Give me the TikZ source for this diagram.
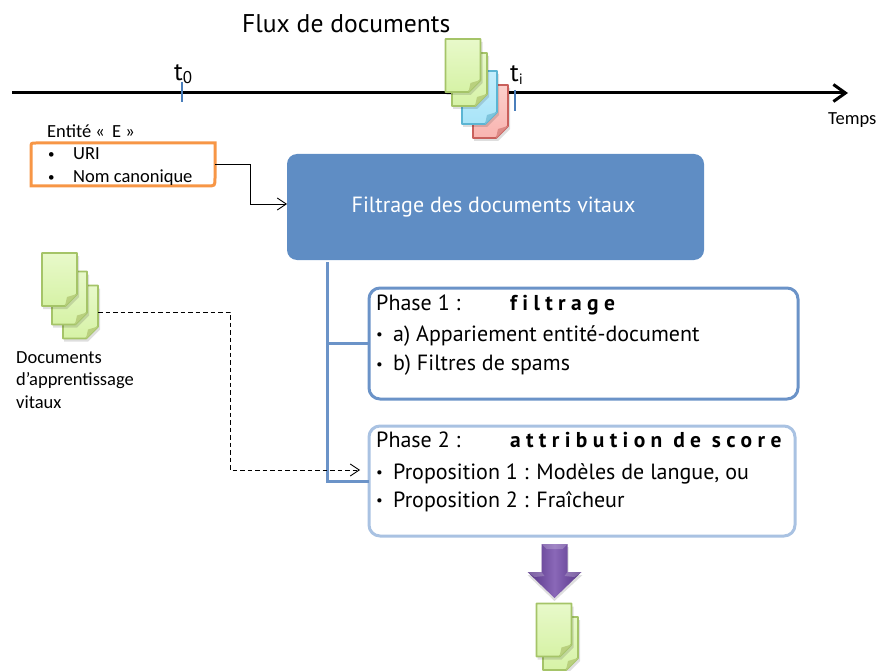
\documentclass[tikz,border=0pt]{standalone}
\usepackage{fontspec}
\setmainfont{Carlito}
\newfontfamily\myr[Ligatures=NoCommon]{PT Sans}
\newfontfamily\spacedbold[LetterSpace=25,Ligatures=NoCommon,BoldFont={PT Sans Bold}]{PT Sans}
\usetikzlibrary{arrows.meta,calc}
\definecolor{gEdge}{HTML}{A5C468}\definecolor{gTop}{HTML}{E8F9CA}\definecolor{gBot}{HTML}{D6F2A6}\definecolor{gFold}{HTML}{B9D07E}
\definecolor{bEdge}{HTML}{5BB5D3}\definecolor{bTop}{HTML}{C4EEFC}\definecolor{bBot}{HTML}{A8E4F8}\definecolor{bFold}{HTML}{7EC4DC}
\definecolor{rEdge}{HTML}{C9605C}\definecolor{rTop}{HTML}{FCD0CC}\definecolor{rBot}{HTML}{F9B4B0}\definecolor{rFold}{HTML}{DC8A86}
\definecolor{filterBlue}{HTML}{5F8DC4}\definecolor{phaseA}{HTML}{6B93C8}\definecolor{phaseB}{HTML}{A9C2E2}
\definecolor{orangeEdge}{HTML}{F79646}\definecolor{tickBlue}{HTML}{4A7EBB}
\definecolor{purpleTop}{HTML}{8A68B8}\definecolor{purpleBot}{HTML}{553385}
\tikzset{
  lbl/.style={anchor=base west,inner sep=0pt,font=\fontsize{#1}{#1}\selectfont},
  lbl/.default=18.5,
  plbl/.style={anchor=base west,inner sep=0pt,font=\myr\fontsize{#1}{#1}\selectfont},
  plbl/.default=22,
  tickmark/.style={draw=tickBlue,line width=1.4pt},
  trunkline/.style={draw=phaseA,line width=3pt},
  thinarrow/.style={draw=black,line width=0.9pt,-{Straight Barb[length=9pt,width=12pt]}},
  phasebox/.style={draw=#1,line width=3pt,rounded corners=11pt,fill=white,inner sep=0pt,outer sep=0pt},
  pagebox/.style={inner sep=0pt,outer sep=0pt,minimum width=35pt,minimum height=53pt}
}
% \docpage{name}{center x}{center y}{colour prefix}
\newcommand{\docpage}[4]{%
  \node[pagebox] (#1) at (#2,#3) {};
  \fill[black,opacity=.13] ($(#1.north west)+(1,3)$) -- ($(#1.north east)+(2,3)$) -- ($(#1.south east)+(2,-9)$) -- ($(#1.south east)+(-10,3)$) -- ($(#1.south west)+(1,3)$) -- cycle;
  \draw[draw=#4Edge,line width=1.8pt,top color=#4Top,bottom color=#4Bot,line join=round]
    (#1.north west) -- (#1.north east) -- ($(#1.south east)+(0,-12)$) -- ($(#1.south east)+(-12,0)$) -- (#1.south west) -- cycle;
  \fill[#4Fold] ($(#1.south east)+(0,-12)$) -- ($(#1.south east)+(-10,-9)$) -- ($(#1.south east)+(-12,0)$) -- cycle;
}
\begin{document}
\begin{tikzpicture}[x=1pt,y=-1pt]
\useasboundingbox (0,0) rectangle (878,671);
% title and timeline
\node[plbl=25.6] (title) at (242,33) {Flux de documents};
\coordinate (lineStart) at (12,93);
\coordinate (lineEnd) at (848,93);
\draw[line width=3pt,-{Straight Barb[length=12pt,width=17pt,line width=3pt]}] (lineStart) -- (lineEnd);
\coordinate (tickA) at (182,82);
\coordinate (tickB) at (515,90);
\draw[tickmark] (tickA) -- ++(0,20);
\draw[tickmark] (tickB) -- ++(0,21);
\node[plbl=25.6] (tzero) at (174,81) {t\raisebox{-3pt}{\fontsize{17}{17}\selectfont 0}};
\node[plbl=25.6] (ti) at (510,82) {t\raisebox{-3pt}{\fontsize{15}{15}\selectfont i}};
\node[lbl] (temps) at (828,125) {Temps};
% flux pages
\docpage{rouge}{490.5}{111.5}{r}
\docpage{bleu}{479.5}{97.5}{b}
\docpage{vertB}{469.5}{79.5}{g}
\docpage{vertA}{463}{65.5}{g}
% entity
\node[lbl] (entitelbl) at (47,138) {Entité «\, E »};
\node[inner sep=0pt,outer sep=0pt,minimum width=184pt,minimum height=43pt] (entite) at (123,164.5) {};
\draw[orangeEdge,line width=3pt] ($(entite.north west)+(5,0)$) -- (entite.north east) -- ($(entite.south east)+(0,-8)$) .. controls (entite.south east) .. ($(entite.south east)+(-8,0)$) -- (entite.south west) -- ($(entite.north west)+(0,5)$) .. controls (entite.north west) .. cycle;
\node[lbl=13] (bulA) at (48,159) {•};
\node[lbl] (uri) at (73,160) {URI};
\node[lbl=13] (bulB) at (48,182) {•};
\node[lbl] (nom) at (73,183) {Nom canonique};
% filter
\node[fill=filterBlue,rounded corners=10pt,inner sep=0pt,outer sep=0pt,minimum width=417pt,minimum height=106pt,text=white,font=\myr\fontsize{22}{22}\selectfont] (filtre) at (495.5,207) {\hspace{-4pt}\raisebox{-1pt}{Filtrage des documents vitaux}};
\coordinate (coude) at (250,204);
\draw[thinarrow] (entite.east) -- (entite.east -| coude) -- (coude) -- (coude -| filtre.west);
% phases
\coordinate (trunkTop) at (327,262);
\node[phasebox=phaseA,minimum width=429pt,minimum height=111pt] (phaseUn) at (583.5,343.5) {};
\node[phasebox=phaseB,minimum width=426pt,minimum height=110pt] (phaseDeux) at (582,481) {};
\draw[trunkline] (trunkTop) |- (phaseDeux.west);
\draw[trunkline] (trunkTop |- phaseUn.west) -- (phaseUn.west);
\node[plbl] (pA) at (376,310) {Phase 1 :};
\node[plbl=21.5] (pAt) at (510,310) {\spacedbold\bfseries filtrage};
\node[plbl=15] (pAa0) at (376,339) {•};
\node[plbl] (pAa) at (393,341) {a) Appariement entité-document};
\node[plbl=15] (pAb0) at (376,369) {•};
\node[plbl] (pAb) at (393,370) {b) Filtres de spams};
\node[plbl] (pB) at (376,447) {Phase 2 :};
\node[plbl=21.5] (pBt) at (510,447) {\spacedbold\bfseries attribution de score};
\node[plbl=15] (pBa0) at (376,477) {•};
\node[plbl] (pBa) at (393,479) {Proposition 1 : Modèles de langue,  ou};
\node[plbl=15] (pBb0) at (376,505) {•};
\node[plbl] (pBb) at (393,507) {Proposition 2 : Fraîcheur};
% training docs
\docpage{appC}{80.5}{312}{g}
\docpage{appB}{69.5}{298}{g}
\docpage{appA}{59.5}{279.5}{g}
\node[lbl] (docA) at (16,363) {Documents};
\node[lbl] (docB) at (16,385) {d’apprentissage};
\node[lbl] (docC) at (16,408) {vitaux};
\coordinate (coudeB) at (230,470);
\coordinate (finDash) at (360,470);
\draw[thinarrow,dashed,dash pattern=on 4.5pt off 3pt] (appC.east) -- (appC.east -| coudeB) -- (coudeB) -- (finDash);
% purple arrow
\coordinate (fleche) at (554.5,544);
\fill[black,opacity=.13] ($(fleche)+(-13,3)$) -- ++(27,0) -- ++(0,28) -- ++(14,0) -- ($(fleche)+(0,57)$) -- ($(fleche)+(-27,31)$) -- ++(14,0) -- cycle;
\path[left color=purpleBot,right color=purpleBot,middle color=purpleTop] ($(fleche)+(-13,0)$) -- ++(26,0) -- ++(0,28) -- ++(14,0) -- ($(fleche)+(0,54)$) -- ($(fleche)+(-27,28)$) -- ++(14,0) -- cycle;
\fill[white,opacity=.2] ($(fleche)+(-13,0)$) -- ++(26,0) -- ++(-5,5) -- ++(-16,0) -- cycle;
\fill[white,opacity=.22] ($(fleche)+(-27,28)$) -- ++(14,0) -- ++(3,4) -- ++(-10,1) -- cycle;
\fill[white,opacity=.22] ($(fleche)+(27,28)$) -- ++(-14,0) -- ++(-3,4) -- ++(10,1) -- cycle;
% output docs
\docpage{sortieB}{560.5}{643.5}{g}
\docpage{sortieA}{554}{630}{g}
\end{tikzpicture}
\end{document}
